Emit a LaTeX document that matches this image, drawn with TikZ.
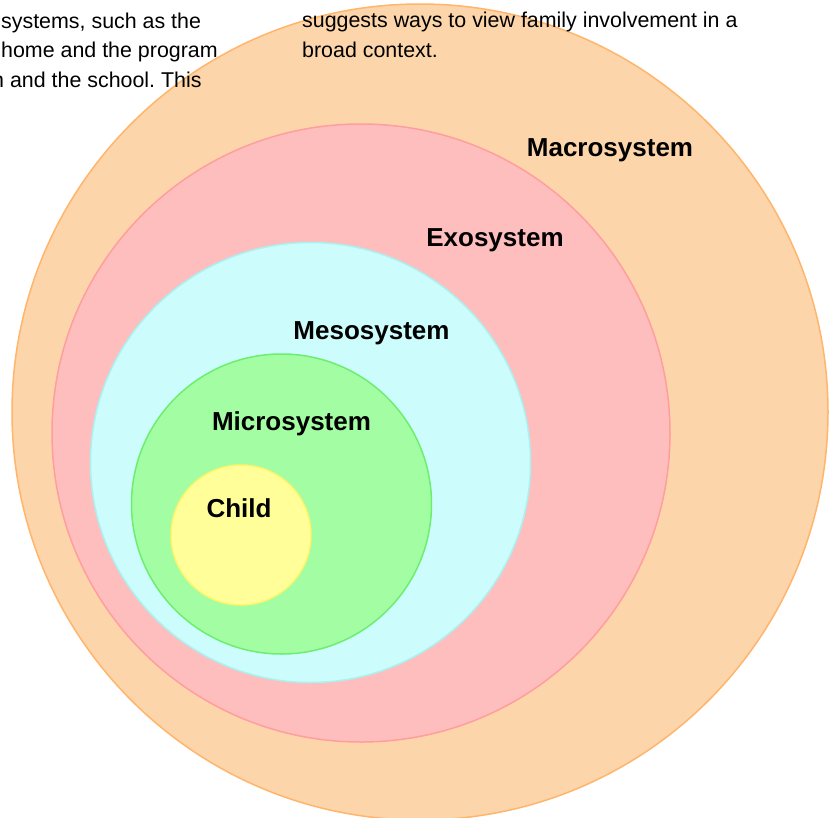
\documentclass[tikz,border=0pt]{standalone}
\usepackage{fontspec}
\setmainfont{Liberation Sans}
\frenchspacing
\definecolor{macrofill}{HTML}{FDD5AA}
\definecolor{macrodraw}{HTML}{FFB56B}
\definecolor{exofill}{HTML}{FFBEBE}
\definecolor{exodraw}{HTML}{FF9E9E}
\definecolor{mesofill}{HTML}{CDFCFD}
\definecolor{mesodraw}{HTML}{A8F2F2}
\definecolor{microfill}{HTML}{A3FEA3}
\definecolor{microdraw}{HTML}{6EEE6E}
\definecolor{childfill}{HTML}{FFFE99}
\definecolor{childdraw}{HTML}{FFF56A}
\tikzset{
  ring/.style={circle, inner sep=0pt, line width=1.5pt},
  lbl/.style={anchor=base, inner sep=0pt, font=\fontsize{26}{30}\selectfont\bfseries},
  body/.style={anchor=base west, inner sep=0pt, font=\fontsize{21.4}{29.5}\selectfont}
}
\begin{document}
\begin{tikzpicture}[x=1pt,y=-1pt]
\useasboundingbox (0,0) rectangle (830,817);
\begin{scope}
\clip (0,0) rectangle (830,817);
\node[ring, fill=macrofill, draw=macrodraw, minimum size=816pt] (macro) at (420,412) {};
\node[ring, fill=exofill, draw=exodraw, minimum size=618pt] (exo) at (361,433) {};
\node[ring, fill=mesofill, draw=mesodraw, minimum size=440pt] (meso) at (310.5,462.5) {};
\node[ring, fill=microfill, draw=microdraw, minimum size=300pt] (micro) at (281.5,504) {};
\node[ring, fill=childfill, draw=childdraw, minimum size=140pt] (child) at (241,535) {};

\node[lbl] (lmacro) at (610,156) {Macrosystem};
\node[lbl] (lexo) at (495,246) {Exosystem};
\node[lbl] (lmeso) at (371.5,339) {Mesosystem};
\node[lbl] (lmicro) at (291.5,430) {Microsystem};
\node[lbl] (lchild) at (239,517) {Child};

\node[body] (t1) at (1,28) {systems, such as the};
\node[body] (t2) at (1,57.5) {home and the program};
\node[body] (t3) at (-8,87) {n and the school. This};
\node[body] (t4) at (302,27) {suggests ways to view family involvement in a};
\node[body] (t5) at (302,57) {broad context.};
\end{scope}
\end{tikzpicture}
\end{document}
